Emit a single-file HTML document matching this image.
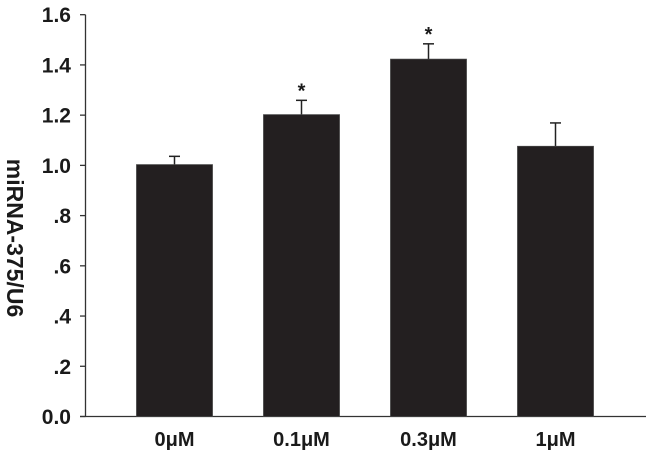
<!DOCTYPE html>
<html><head><meta charset="utf-8"><style>
body{margin:0;background:#fff;}
text{font-family:"Liberation Sans",Arial,sans-serif;font-weight:bold;fill:#1a1a1a;}
</style></head><body>
<svg width="650" height="453" id="chart">
</svg>
<script>
const categories=["0μM","0.1μM","0.3μM","1μM"];
const values=[1.003,1.202,1.423,1.076];
const errors=[0.033,0.057,0.061,0.093];
const significant=[false,true,true,false];
const yTicks=[0,0.2,0.4,0.6,0.8,1.0,1.2,1.4,1.6];
const yTickLabels=["0.0",".2",".4",".6",".8","1.0","1.2","1.4","1.6"];
const NS="http://www.w3.org/2000/svg";
const svg=document.getElementById('chart');
const y0=416.5,yTop=14.7,ax=85.5;
function y(v){return y0-(v/1.6)*(y0-yTop);}
function xc(i){return 174.5+127*i;}
function mk(t,a,p){const e=document.createElementNS(NS,t);for(const k in a)e.setAttribute(k,a[k]);(p||svg).appendChild(e);return e;}
const yAxis=mk('line',{x1:ax,y1:yTop,x2:ax,y2:y0,stroke:'#333','stroke-width':1.3});


const xAxis=mk('line',{x1:80,y1:y0,x2:646,y2:y0,stroke:'#333','stroke-width':1.3});


yTicks.forEach((v,i)=>{
  const t=mk('line',{x1:80,y1:y(v),x2:ax,y2:y(v),stroke:'#333','stroke-width':1.3});
  
  
  const l=mk('text',{x:71,y:y(v)+7.5,'text-anchor':'end','font-size':21});
  l.textContent=yTickLabels[i];
  
  
});
categories.forEach((c,i)=>{
  const cx=xc(i),top=y(values[i]),et=y(values[i]+errors[i]);
  const el=mk('line',{x1:cx,y1:top,x2:cx,y2:et,stroke:'#222','stroke-width':1.5});
  
  
  const cap=mk('line',{x1:cx-5.5,y1:et,x2:cx+5.5,y2:et,stroke:'#222','stroke-width':1.5});
  
  
  const b=mk('rect',{x:cx-38,y:top,width:76,height:y0-top,fill:'#231f20',stroke:'#444','stroke-width':0.8});
  
  
  if(significant[i]){
    const s=mk('text',{x:cx,y:et-3,'text-anchor':'middle','font-size':20});
    s.textContent='*';
    
    
  }
  const l=mk('text',{x:cx,y:446,'text-anchor':'middle','font-size':20});
  l.textContent=c;
  
  
});
const yt=mk('text',{x:0,y:0,'text-anchor':'middle','font-size':23,transform:'translate(7,238) rotate(90)'});
yt.textContent='miRNA-375/U6';


</script>
</body></html>
